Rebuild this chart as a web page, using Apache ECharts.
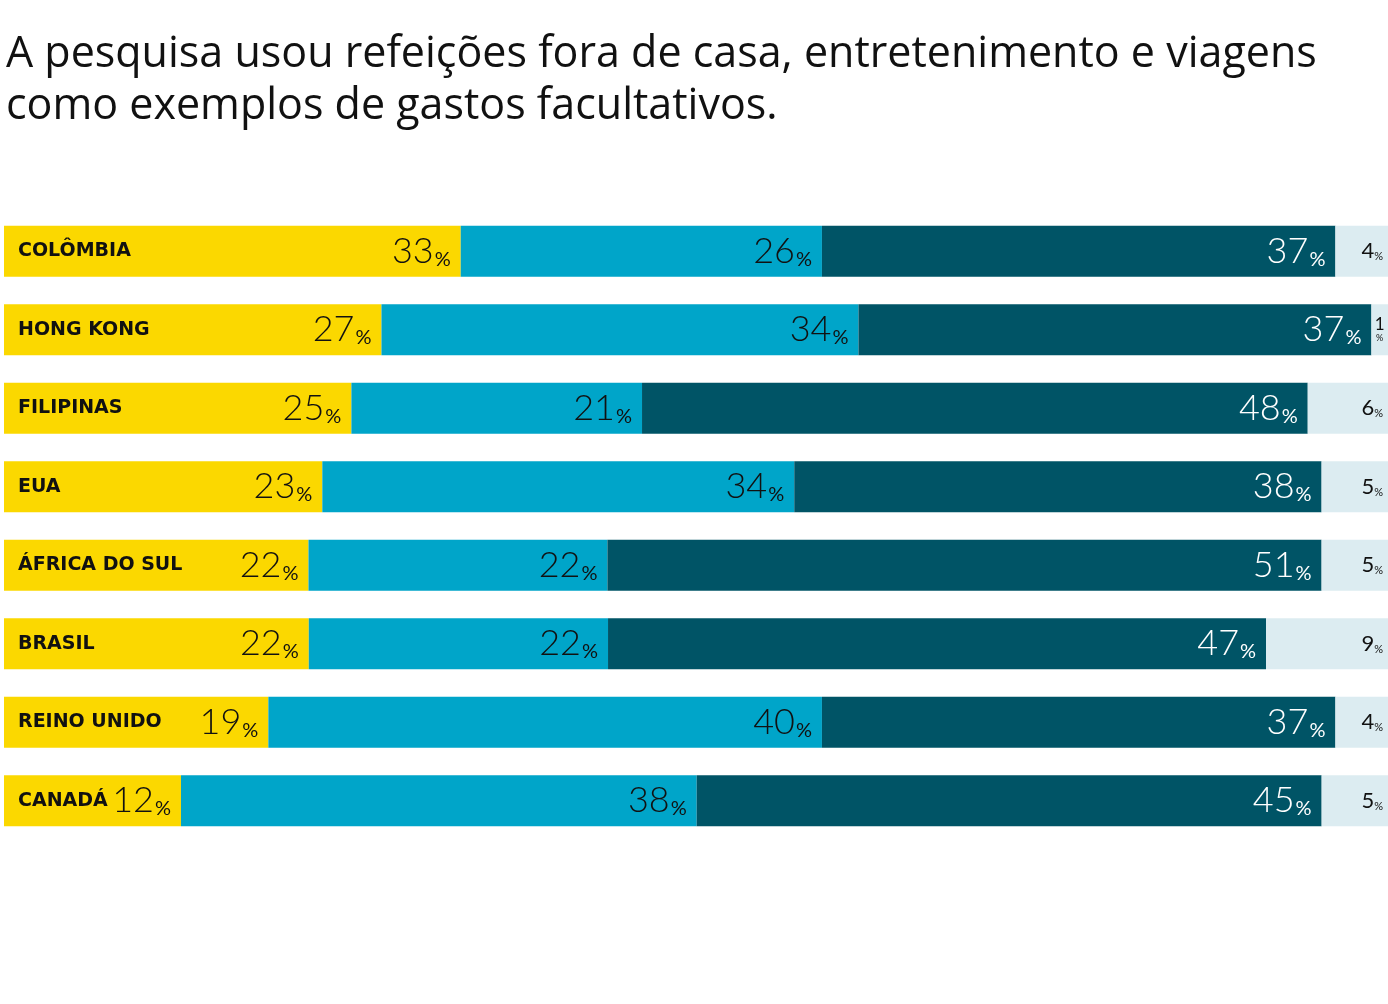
<!DOCTYPE html>
<html>
<head>
<meta charset="utf-8">
<script src="https://cdn.jsdelivr.net/npm/echarts@6/dist/echarts.min.js"></script>
<style>
html,body{margin:0;padding:0;background:#fff;}
#chart{width:1388px;height:1004px;}
</style>
</head>
<body>
<div id="chart"></div>
<script>
const titleText = 'A pesquisa usou refeições fora de casa, entretenimento e viagens\ncomo exemplos de gastos facultativos.';
const categories = ['COLÔMBIA', 'HONG KONG', 'FILIPINAS', 'EUA', 'ÁFRICA DO SUL', 'BRASIL', 'REINO UNIDO', 'CANADÁ'];
// printed percentages
const label1 = [33, 27, 25, 23, 22, 22, 19, 12];
const label2 = [26, 34, 21, 34, 22, 22, 40, 38];
const label3 = [37, 37, 48, 38, 51, 47, 37, 45];
const label4 = [4, 1, 6, 5, 5, 9, 4, 5];
// bar lengths (share of the full bar, %)
const share1 = [33.0, 27.3, 25.1, 23.0, 22.0, 22.0, 19.1, 12.8];
const share2 = [26.1, 34.5, 21.0, 34.1, 21.6, 21.6, 40.0, 37.3];
const share3 = [37.1, 37.1, 48.1, 38.1, 51.6, 47.5, 37.1, 45.2];
const share4 = [3.8, 1.2, 5.8, 4.8, 4.8, 8.8, 3.8, 4.8];

const shares = [share1, share2, share3, share4];
const labels = [label1, label2, label3, label4];
const colors = ['#FBD800', '#00A5C9', '#005466', '#DCECF1'];
const labelColors = ['#111', '#111', '#fff', '#111'];
const totals = categories.map((c, i) => shares.reduce((s, a) => s + a[i], 0));

const NUM_FONT = 'Lato';

function bigRich(color) {
  return {
    n: { fontFamily: NUM_FONT, fontWeight: 300, fontSize: 36, lineHeight: 36, color: color },
    p: { fontFamily: NUM_FONT, fontWeight: 400, fontSize: 20, lineHeight: 24, verticalAlign: 'bottom', color: color, padding: [0, 0, 0, 1] }
  };
}
function smallRich(color) {
  return {
    n: { fontFamily: NUM_FONT, fontWeight: 400, fontSize: 22, lineHeight: 22, color: color },
    p: { fontFamily: NUM_FONT, fontWeight: 400, fontSize: 11, lineHeight: 15, verticalAlign: 'bottom', color: color },
    s: { fontFamily: NUM_FONT, fontWeight: 400, fontSize: 17, lineHeight: 16, color: color, align: 'center' },
    t: { fontFamily: NUM_FONT, fontWeight: 400, fontSize: 9, lineHeight: 10, color: color, align: 'center' }
  };
}

const series = shares.map((arr, k) => {
  const last = k === 3;
  return {
    type: 'bar',
    stack: 'total',
    barWidth: 51,
    silent: true,
    itemStyle: { color: colors[k] },
    label: {
      show: true,
      position: 'insideRight',
      distance: last ? 5 : 10,
      formatter: p => '{n|' + p.data.raw + '}{p|%}',
      rich: last ? smallRich(labelColors[k]) : bigRich(labelColors[k])
    },
    data: arr.map((v, i) => {
      const raw = labels[k][i];
      const item = { value: v / totals[i] * 100, raw: raw };
      if (last && raw < 2) {
        item.label = {
          position: 'inside',
          formatter: p => '{s|' + p.data.raw + '}\n{t|%}'
        };
      }
      return item;
    })
  };
});

const chart = echarts.init(document.getElementById('chart'), null, { renderer: 'canvas' });
chart.setOption({
  animation: false,
  backgroundColor: '#fff',
  title: {
    text: titleText,
    left: 1,
    top: 24,
    textStyle: { fontFamily: 'Open Sans', fontWeight: 400, fontSize: 43, lineHeight: 52, color: '#111' }
  },
  grid: { left: 4, right: 0, top: 212, height: 628, containLabel: false },
  xAxis: { type: 'value', min: 0, max: 100, show: false },
  yAxis: {
    type: 'category',
    data: categories,
    inverse: true,
    z: 10,
    axisLine: { show: false },
    axisTick: { show: false },
    splitLine: { show: false },
    axisLabel: {
      inside: true,
      margin: 14,
      padding: [4, 0, 0, 0],
      fontFamily: 'DejaVu Sans',
      fontWeight: 'bold',
      fontSize: 19,
      color: '#111'
    }
  },
  series: series
});
</script>
</body>
</html>
